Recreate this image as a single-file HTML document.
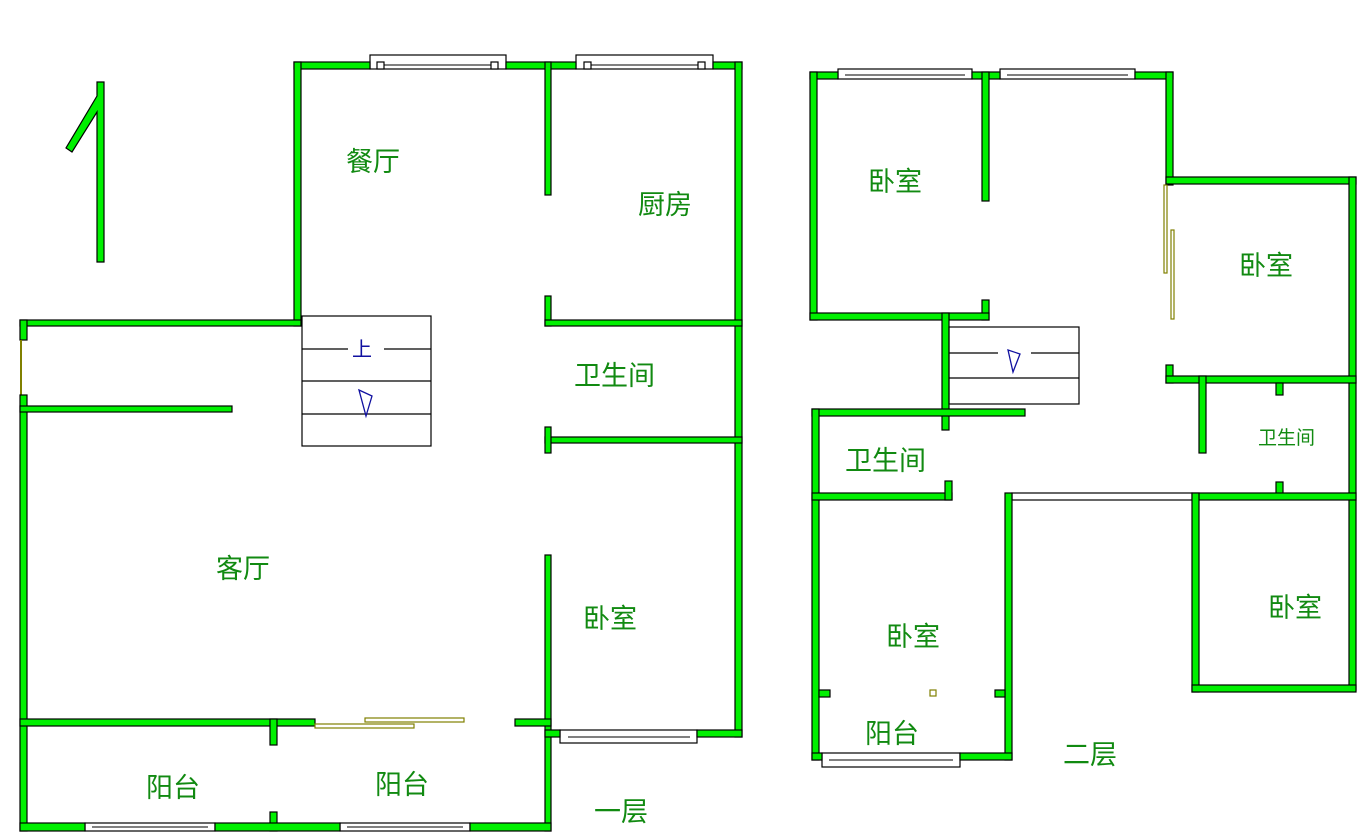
<!DOCTYPE html>
<html><head><meta charset="utf-8"><style>
body{margin:0;background:#fff;}
svg{display:block}
.w{fill:#00f000;stroke:#000;stroke-width:1.2}
.win{fill:#fff;stroke:#000;stroke-width:1.2}
.t{font-family:"Liberation Sans","Noto Sans CJK SC",sans-serif;fill:#118a11;font-size:27px}
.st{fill:none;stroke:#000;stroke-width:1.2}
.ol{fill:#fff;stroke:#808000;stroke-width:1.2}
</style></head><body>
<svg width="1362" height="835" viewBox="0 0 1362 835" xmlns="http://www.w3.org/2000/svg">
<polygon class="w" points="97,82 104,82 104,262 97,262 97,112 72,152 66,148 97,96"/>

<!-- FLOOR 1 -->
<rect class="win" x="370" y="55" width="136" height="14"/>
<rect class="win" x="576" y="55" width="137" height="14"/>
<rect class="w" x="294" y="62" width="76" height="7"/>
<rect class="w" x="506" y="62" width="70" height="7"/>
<rect class="w" x="713" y="62" width="29" height="7"/>
<rect class="win" x="377" y="62" width="7" height="7"/><rect class="win" x="491" y="62" width="7" height="7"/>
<rect class="win" x="584" y="62" width="7" height="7"/><rect class="win" x="698" y="62" width="7" height="7"/>
<line x1="384" y1="65" x2="491" y2="65" stroke="#000"/><line x1="591" y1="65" x2="698" y2="65" stroke="#000"/>
<rect class="w" x="294" y="62" width="7" height="264"/>
<rect class="w" x="735" y="62" width="7" height="675"/>
<rect class="w" x="20" y="320" width="281" height="6"/>
<rect class="w" x="20" y="320" width="7" height="20"/>
<line x1="21" y1="340" x2="21" y2="395" stroke="#808000" stroke-width="2"/>
<rect class="w" x="20" y="395" width="7" height="436"/>
<rect class="w" x="20" y="406" width="212" height="6"/>
<rect class="w" x="545" y="62" width="6" height="133"/>
<rect class="w" x="545" y="296" width="6" height="30"/>
<rect class="w" x="545" y="320" width="197" height="6"/>
<rect class="w" x="545" y="437" width="197" height="6"/>
<rect class="w" x="545" y="427" width="6" height="26"/>
<rect class="w" x="545" y="555" width="6" height="276"/>
<rect class="win" x="560" y="730" width="137" height="13"/>
<line x1="568" y1="737" x2="690" y2="737" stroke="#000"/>
<rect class="w" x="545" y="730" width="15" height="7"/>
<rect class="w" x="697" y="730" width="45" height="7"/>
<rect class="w" x="20" y="719" width="295" height="7"/>
<rect class="w" x="515" y="719" width="36" height="7"/>
<rect class="w" x="270" y="719" width="7" height="26"/>
<rect class="w" x="270" y="812" width="7" height="19"/>
<rect class="win" x="85" y="823" width="130" height="8"/>
<rect class="win" x="340" y="823" width="130" height="8"/>
<line x1="92" y1="827" x2="208" y2="827" stroke="#000"/><line x1="347" y1="827" x2="463" y2="827" stroke="#000"/>
<rect class="w" x="20" y="823" width="65" height="8"/>
<rect class="w" x="215" y="823" width="125" height="8"/>
<rect class="w" x="470" y="823" width="81" height="8"/>
<rect class="ol" x="315" y="724" width="99" height="4"/>
<rect class="ol" x="365" y="718" width="99" height="4"/>
<rect class="st" x="302" y="316" width="129" height="130"/>
<line class="st" x1="302" y1="349" x2="348" y2="349"/><line class="st" x1="384" y1="349" x2="431" y2="349"/>
<line class="st" x1="302" y1="381" x2="431" y2="381"/>
<line class="st" x1="302" y1="414" x2="431" y2="414"/>
<text x="352" y="356" font-family="Liberation Sans,Noto Sans CJK SC,sans-serif" font-size="20" fill="#1010a0">上</text>
<polygon points="359,390 372,396 366,416" fill="none" stroke="#1010a0" stroke-width="1.3"/>

<text class="t" x="346" y="171">餐厅</text>
<text class="t" x="638" y="214">厨房</text>
<text class="t" x="574" y="385">卫生间</text>
<text class="t" x="216" y="578">客厅</text>
<text class="t" x="583" y="628">卧室</text>
<text class="t" x="146" y="797">阳台</text>
<text class="t" x="375" y="794">阳台</text>
<text class="t" x="594" y="821">一层</text>

<!-- FLOOR 2 -->
<rect class="win" x="838" y="69" width="134" height="10"/>
<rect class="win" x="1000" y="69" width="135" height="10"/>
<line x1="845" y1="75" x2="965" y2="75" stroke="#000"/><line x1="1007" y1="75" x2="1128" y2="75" stroke="#000"/>
<rect class="w" x="810" y="72" width="28" height="7"/>
<rect class="w" x="972" y="72" width="28" height="7"/>
<rect class="w" x="1135" y="72" width="38" height="7"/>
<rect class="w" x="810" y="72" width="7" height="248"/>
<rect class="w" x="982" y="72" width="7" height="129"/>
<rect class="w" x="982" y="300" width="7" height="20"/>
<rect class="w" x="810" y="313" width="179" height="7"/>
<rect class="w" x="1166" y="72" width="7" height="113"/>
<rect class="ol" x="1164" y="185" width="3" height="88"/>
<rect class="ol" x="1171" y="230" width="3" height="89"/>
<rect class="w" x="1166" y="177" width="190" height="7"/>
<rect class="w" x="1349" y="177" width="7" height="513"/>
<rect class="w" x="1166" y="365" width="7" height="18"/>
<rect class="w" x="1166" y="376" width="190" height="7"/>
<rect class="w" x="1199" y="376" width="7" height="77"/>
<rect class="w" x="1276" y="383" width="7" height="12"/>
<rect class="w" x="1276" y="482" width="7" height="13"/>
<rect class="w" x="1192" y="493" width="164" height="7"/>
<rect class="win" x="1012" y="493" width="180" height="7"/>
<rect class="w" x="942" y="313" width="7" height="117"/>
<rect class="w" x="812" y="409" width="213" height="7"/>
<rect class="w" x="812" y="409" width="7" height="351"/>
<rect class="w" x="812" y="493" width="140" height="7"/>
<rect class="w" x="945" y="481" width="7" height="19"/>
<rect class="w" x="1005" y="493" width="7" height="267"/>
<rect class="win" x="822" y="753" width="138" height="14"/>
<line x1="829" y1="760" x2="953" y2="760" stroke="#000"/>
<rect class="w" x="812" y="753" width="10" height="7"/>
<rect class="w" x="960" y="753" width="52" height="7"/>
<rect class="w" x="819" y="690" width="11" height="7"/>
<rect class="w" x="995" y="690" width="10" height="7"/>
<rect class="ol" x="930" y="690" width="6" height="6"/>
<rect class="w" x="1192" y="493" width="7" height="199"/>
<rect class="w" x="1192" y="685" width="164" height="7"/>
<rect class="st" x="949" y="327" width="130" height="77"/>
<line class="st" x1="949" y1="353" x2="998" y2="353"/><line class="st" x1="1031" y1="353" x2="1079" y2="353"/>
<line class="st" x1="949" y1="378" x2="1079" y2="378"/>
<polygon points="1008,350 1020,354 1013,372" fill="none" stroke="#1010a0" stroke-width="1.3"/>

<text class="t" x="868" y="191">卧室</text>
<text class="t" x="1239" y="275">卧室</text>
<text class="t" x="1258" y="444" style="font-size:19px">卫生间</text>
<text class="t" x="845" y="470">卫生间</text>
<text class="t" x="1268" y="617">卧室</text>
<text class="t" x="886" y="646">卧室</text>
<text class="t" x="865" y="743">阳台</text>
<text class="t" x="1063" y="764">二层</text>
</svg>
</body></html>
